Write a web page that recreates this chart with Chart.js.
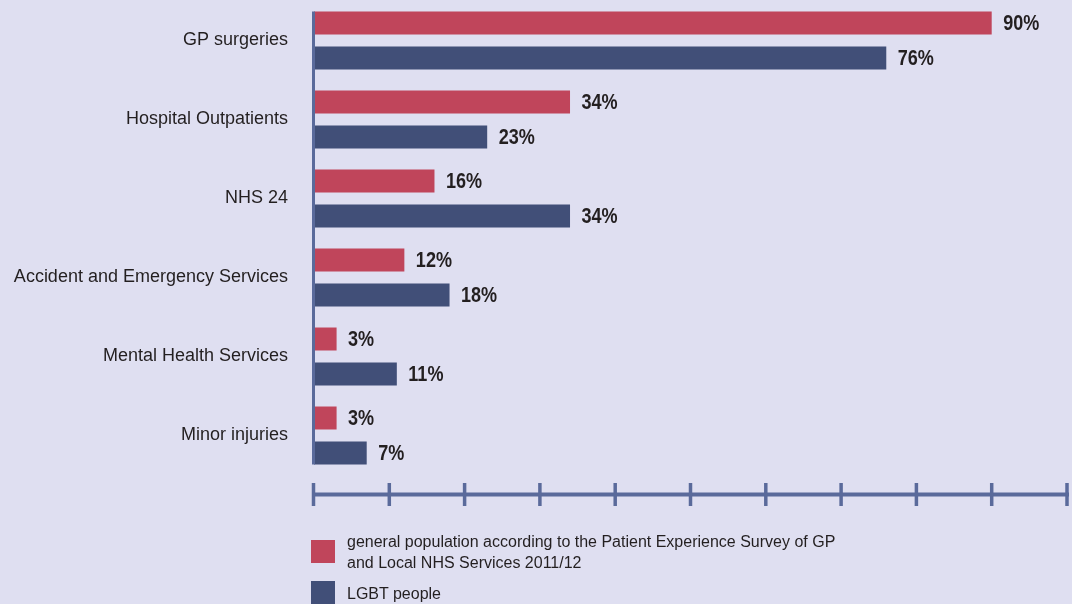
<!DOCTYPE html>
<html>
<head>
<meta charset="utf-8">
<script src="https://cdn.jsdelivr.net/npm/chart.js@4/dist/chart.umd.min.js"></script>
<style>
  html, body { margin: 0; padding: 0; background: #dfdff1; }
  #wrap { position: relative; width: 1072px; height: 604px; overflow: hidden; }
  #chart { position: absolute; left: 0; top: 0; }
  .legend-item { position: absolute; left: 311px; font: 16px "Liberation Sans", Arial, sans-serif; color: #231f20; line-height: 21px; }
  .legend-item .swatch { position: absolute; left: 0; width: 24px; height: 23px; }
  .legend-item .text { position: absolute; left: 36px; white-space: nowrap; }
</style>
</head>
<body>
<div id="wrap">
  <canvas id="chart" width="1072" height="604"></canvas>
  <div class="legend-item" style="top:540px">
    <div class="swatch" style="top:0;background:#c0455b"></div>
    <div class="text" style="top:-9px">general population according to the Patient Experience Survey of GP<br>and Local NHS Services 2011/12</div>
  </div>
  <div class="legend-item" style="top:581px">
    <div class="swatch" style="top:0;background:#414f78"></div>
    <div class="text" style="top:2px">LGBT people</div>
  </div>
</div>
<script>
var categories = ['GP surgeries', 'Hospital Outpatients', 'NHS 24', 'Accident and Emergency Services', 'Mental Health Services', 'Minor injuries'];
var generalPopulation = [90, 34, 16, 12, 3, 3];
var lgbtPeople = [76, 23, 34, 18, 11, 7];
var axisTicks = [0, 10, 20, 30, 40, 50, 60, 70, 80, 90, 100];

var AXIS_COLOR = '#5a6a9b';
var TEXT_COLOR = '#231f20';

// value labels at the end of each bar (condensed bold)
var valueLabels = {
    id: 'valueLabels',
    afterDatasetsDraw: function (chart) {
        var ctx = chart.ctx;
        chart.data.datasets.forEach(function (ds, di) {
            chart.getDatasetMeta(di).data.forEach(function (bar, i) {
                ctx.save();
                ctx.font = 'bold 22px "Liberation Sans", Arial, sans-serif';
                ctx.fillStyle = TEXT_COLOR;
                ctx.textAlign = 'left';
                ctx.textBaseline = 'middle';
                ctx.translate(bar.x + 11.5, bar.y + 1);
                ctx.scale(0.82, 1);
                ctx.fillText(ds.data[i] + '%', 0, 0);
                ctx.restore();
            });
        });
    }
};

// vertical axis line + detached horizontal axis with tick marks
var axesLines = {
    id: 'axesLines',
    afterDatasetsDraw: function (chart) {
        var ctx = chart.ctx;
        var area = chart.chartArea;
        var first = chart.getDatasetMeta(0).data[0];
        var lastMeta = chart.getDatasetMeta(1).data;
        var last = lastMeta[lastMeta.length - 1];
        ctx.save();
        ctx.strokeStyle = AXIS_COLOR;
        ctx.lineWidth = 3;
        ctx.beginPath();
        ctx.moveTo(area.left - 0.5, first.y - first.height / 2);
        ctx.lineTo(area.left - 0.5, last.y + last.height / 2);
        ctx.stroke();

        var x = chart.scales.x;
        var y = area.bottom + 19.5;
        ctx.lineWidth = 4;
        ctx.beginPath();
        ctx.moveTo(x.getPixelForValue(axisTicks[0]) - 2, y);
        ctx.lineTo(x.getPixelForValue(axisTicks[axisTicks.length - 1]) + 2, y);
        ctx.stroke();
        ctx.lineWidth = 3.5;
        axisTicks.forEach(function (t) {
            var px = x.getPixelForValue(t);
            if (t === 0) px -= 0.5;
            ctx.beginPath();
            ctx.moveTo(px, y - 11.5);
            ctx.lineTo(px, y + 11.5);
            ctx.stroke();
        });
        ctx.restore();
    }
};

var chartdata = {
    labels: categories,
    datasets: [
        {
            label: 'general population according to the Patient Experience Survey of GP and Local NHS Services 2011/12',
            backgroundColor: '#c0455b',
            data: generalPopulation,
            categoryPercentage: 0.886,
            barPercentage: 0.657
        },
        {
            label: 'LGBT people',
            backgroundColor: '#414f78',
            data: lgbtPeople,
            categoryPercentage: 0.886,
            barPercentage: 0.657
        }
    ]
};

new Chart(document.getElementById('chart'), {
    type: 'bar',
    data: chartdata,
    plugins: [valueLabels, axesLines],
    options: {
        indexAxis: 'y',
        responsive: false,
        animation: false,
        devicePixelRatio: 1,
        layout: { padding: { top: 1, left: 0, right: 5, bottom: 129 } },
        plugins: { legend: { display: false }, tooltip: { enabled: false } },
        scales: {
            x: { display: false, min: 0, max: 100 },
            y: {
                grid: { display: false, drawTicks: false },
                border: { display: false },
                ticks: {
                    color: TEXT_COLOR,
                    padding: 26,
                    font: { family: '"Liberation Sans", Arial, sans-serif', size: 18 }
                },
                afterFit: function (scale) {
                    scale.width = 314;
                    scale.paddingTop = 0;
                    scale.paddingBottom = 0;
                }
            }
        }
    }
});
</script>
</body>
</html>
